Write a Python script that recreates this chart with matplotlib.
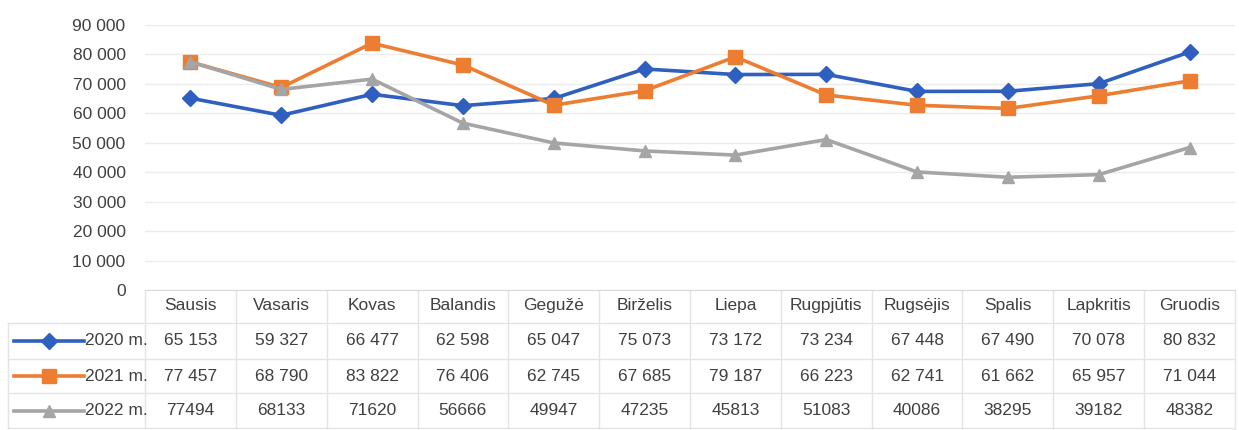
import matplotlib
matplotlib.use("Agg")
import matplotlib.pyplot as plt
from matplotlib.lines import Line2D
import matplotlib.transforms as mtransforms

months = ["Sausis", "Vasaris", "Kovas", "Balandis", "Gegužė", "Birželis",
          "Liepa", "Rugpjūtis", "Rugsėjis", "Spalis", "Lapkritis", "Gruodis"]
series_labels = ["2020 m.", "2021 m.", "2022 m."]
v2020 = [65153, 59327, 66477, 62598, 65047, 75073, 73172, 73234, 67448, 67490, 70078, 80832]
v2021 = [77457, 68790, 83822, 76406, 62745, 67685, 79187, 66223, 62741, 61662, 65957, 71044]
v2022 = [77494, 68133, 71620, 56666, 49947, 47235, 45813, 51083, 40086, 38295, 39182, 48382]
table_2020 = ["65 153", "59 327", "66 477", "62 598", "65 047", "75 073", "73 172", "73 234", "67 448", "67 490", "70 078", "80 832"]
table_2021 = ["77 457", "68 790", "83 822", "76 406", "62 745", "67 685", "79 187", "66 223", "62 741", "61 662", "65 957", "71 044"]
table_2022 = ["77494", "68133", "71620", "56666", "49947", "47235", "45813", "51083", "40086", "38295", "39182", "48382"]
yticks = [0, 10000, 20000, 30000, 40000, 50000, 60000, 70000, 80000, 90000]
ytick_labels = ["0", "10 000", "20 000", "30 000", "40 000", "50 000", "60 000", "70 000", "80 000", "90 000"]

plt.rcParams["font.family"] = ["Liberation Sans", "DejaVu Sans"]
txt = "#404040"
grid = "#ececec"
tline = "#e4e4e4"
fs = 12.5

W, H = 1239, 430
fig = plt.figure(figsize=(W / 100, H / 100), dpi=100)
ax = fig.add_axes([145 / W, 140 / H, 1090 / W, 265 / H])

colors = ["#2f5fbf", "#ed7d31", "#a5a5a5"]
markers = ["D", "s", "^"]
msizes = [8, 10, 9]
x = list(range(len(months)))
for vals, c, m, ms in zip([v2020, v2021, v2022], colors, markers, msizes):
    ax.plot(x, vals, color=c, lw=2.6, marker=m, ms=ms, zorder=3)

ax.set_xlim(-0.5, len(months) - 0.5)
ax.set_ylim(0, 90000)
ax.set_yticks(yticks)
ax.set_yticklabels(ytick_labels, fontsize=fs, color=txt)
ax.set_xticks([])
ax.tick_params(axis="y", length=0, pad=14)
for s in ["top", "right", "left"]:
    ax.spines[s].set_visible(False)
ax.spines["bottom"].set_color("#d9d9d9")
ax.grid(axis="y", color=grid, lw=1)
ax.set_axisbelow(True)

trans = mtransforms.blended_transform_factory(ax.transData, ax.transAxes)
row_y = [-0.057, -0.192, -0.325, -0.455]
line_y = [-0.125, -0.26, -0.39, -0.52]
for i, mth in enumerate(months):
    ax.text(i, row_y[0], mth, transform=trans, ha="center", va="center", fontsize=fs, color=txt)
    for r, tab in enumerate([table_2020, table_2021, table_2022]):
        ax.text(i, row_y[r + 1], tab[i], transform=trans, ha="center", va="center", fontsize=fs, color=txt)
for ly in line_y:
    ax.add_line(Line2D([-0.5, len(months) - 0.5], [ly, ly], transform=trans, color=tline, lw=1, clip_on=False))
for i in range(len(months) + 1):
    ax.add_line(Line2D([i - 0.5, i - 0.5], [0, line_y[-1]], transform=trans, color=tline, lw=1, clip_on=False))

for r, (lab, c, m, ms) in enumerate(zip(series_labels, colors, markers, msizes)):
    yfig = (140 + row_y[r + 1] * 265) / H
    fig.add_artist(Line2D([14 / W, 84 / W], [yfig, yfig], color=c, lw=2.6))
    fig.add_artist(Line2D([49 / W], [yfig], color=c, marker=m, ms=ms, lw=0))
    fig.text(85 / W, yfig, lab, ha="left", va="center", fontsize=fs, color=txt)
for ly in line_y:
    yfig = (140 + ly * 265) / H
    fig.add_artist(Line2D([8 / W, 145 / W], [yfig, yfig], color=tline, lw=1))
fig.add_artist(Line2D([8 / W, 8 / W], [(140 + line_y[0] * 265) / H, (140 + line_y[-1] * 265) / H], color=tline, lw=1))

fig.savefig("out.png", dpi=100, facecolor="white")
